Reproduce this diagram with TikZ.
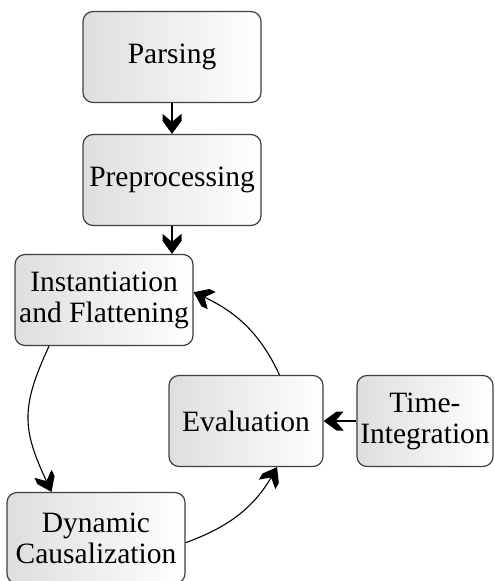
\documentclass[tikz,border=0pt]{standalone}
\usepackage{fontspec}
\setmainfont{Liberation Serif}
\usetikzlibrary{arrows.meta}

% filled chevron head
\pgfdeclarearrow{
  name = Chevron,
  setup code = {
    \pgfarrowssettipend{20pt}
    \pgfarrowssetlineend{9pt}
    \pgfarrowssetbackend{0pt}
    \pgfarrowssetvisualbackend{0pt}
    \pgfarrowshullpoint{20pt}{0pt}
    \pgfarrowshullpoint{0pt}{9.5pt}
    \pgfarrowshullpoint{0pt}{-9.5pt}
  },
  drawing code = {
    \pgfpathmoveto{\pgfpoint{20pt}{0pt}}
    \pgfpathlineto{\pgfpoint{7pt}{9.5pt}}
    \pgfpathlineto{\pgfpoint{0pt}{9.5pt}}
    \pgfpathlineto{\pgfpoint{8pt}{0pt}}
    \pgfpathlineto{\pgfpoint{0pt}{-9.5pt}}
    \pgfpathlineto{\pgfpoint{7pt}{-9.5pt}}
    \pgfpathclose
    \pgfusepathqfill
  }
}

\begin{document}
\begin{tikzpicture} [
    x=1pt, y=1pt,
    block/.style    = { rectangle, draw=black!75, line width=1.2pt,
                        rounded corners=10pt, left color=black!13, right color=white,
                        align=center, minimum width=178pt, minimum height=91pt,
                        inner sep=3pt, font=\fontsize{29.5}{31}\selectfont },
    line/.style     = { draw, black, line width=1.1pt, -Chevron },
  ]
  \useasboundingbox (0,0) rectangle (495,-581);

  % Define nodes
  \node[block] (parsing) at (172,-57) {Parsing};
  \node[block] (prep) at (172,-180) {Preprocessing};
  \node[block] (inst) at (104,-300) {Instantiation\\and Flattening};
  \node[block, minimum width=154pt] (eval) at (246,-421) {Evaluation};
  \node[block, minimum width=136pt] (timeint) at (425,-421) {Time-\\Integration};
  \node[block] (dyncaus) at (96,-538) {Dynamic\\Causalization};

  % connect the nodes
  \path [line] (parsing) -- (prep);
  \path [line] (prep.south) -- (prep.south |- inst.north);
  \path [line] (timeint) -- (eval);
  \path [line] (inst.220) to[out=245, in=115, looseness=1.2] (dyncaus.134);
  \path [line] (dyncaus.-3) to[out=20, in=240] (eval.-56);
  \path [line] (eval.54) to[out=115, in=335] (inst.5);
\end{tikzpicture}
\end{document}
